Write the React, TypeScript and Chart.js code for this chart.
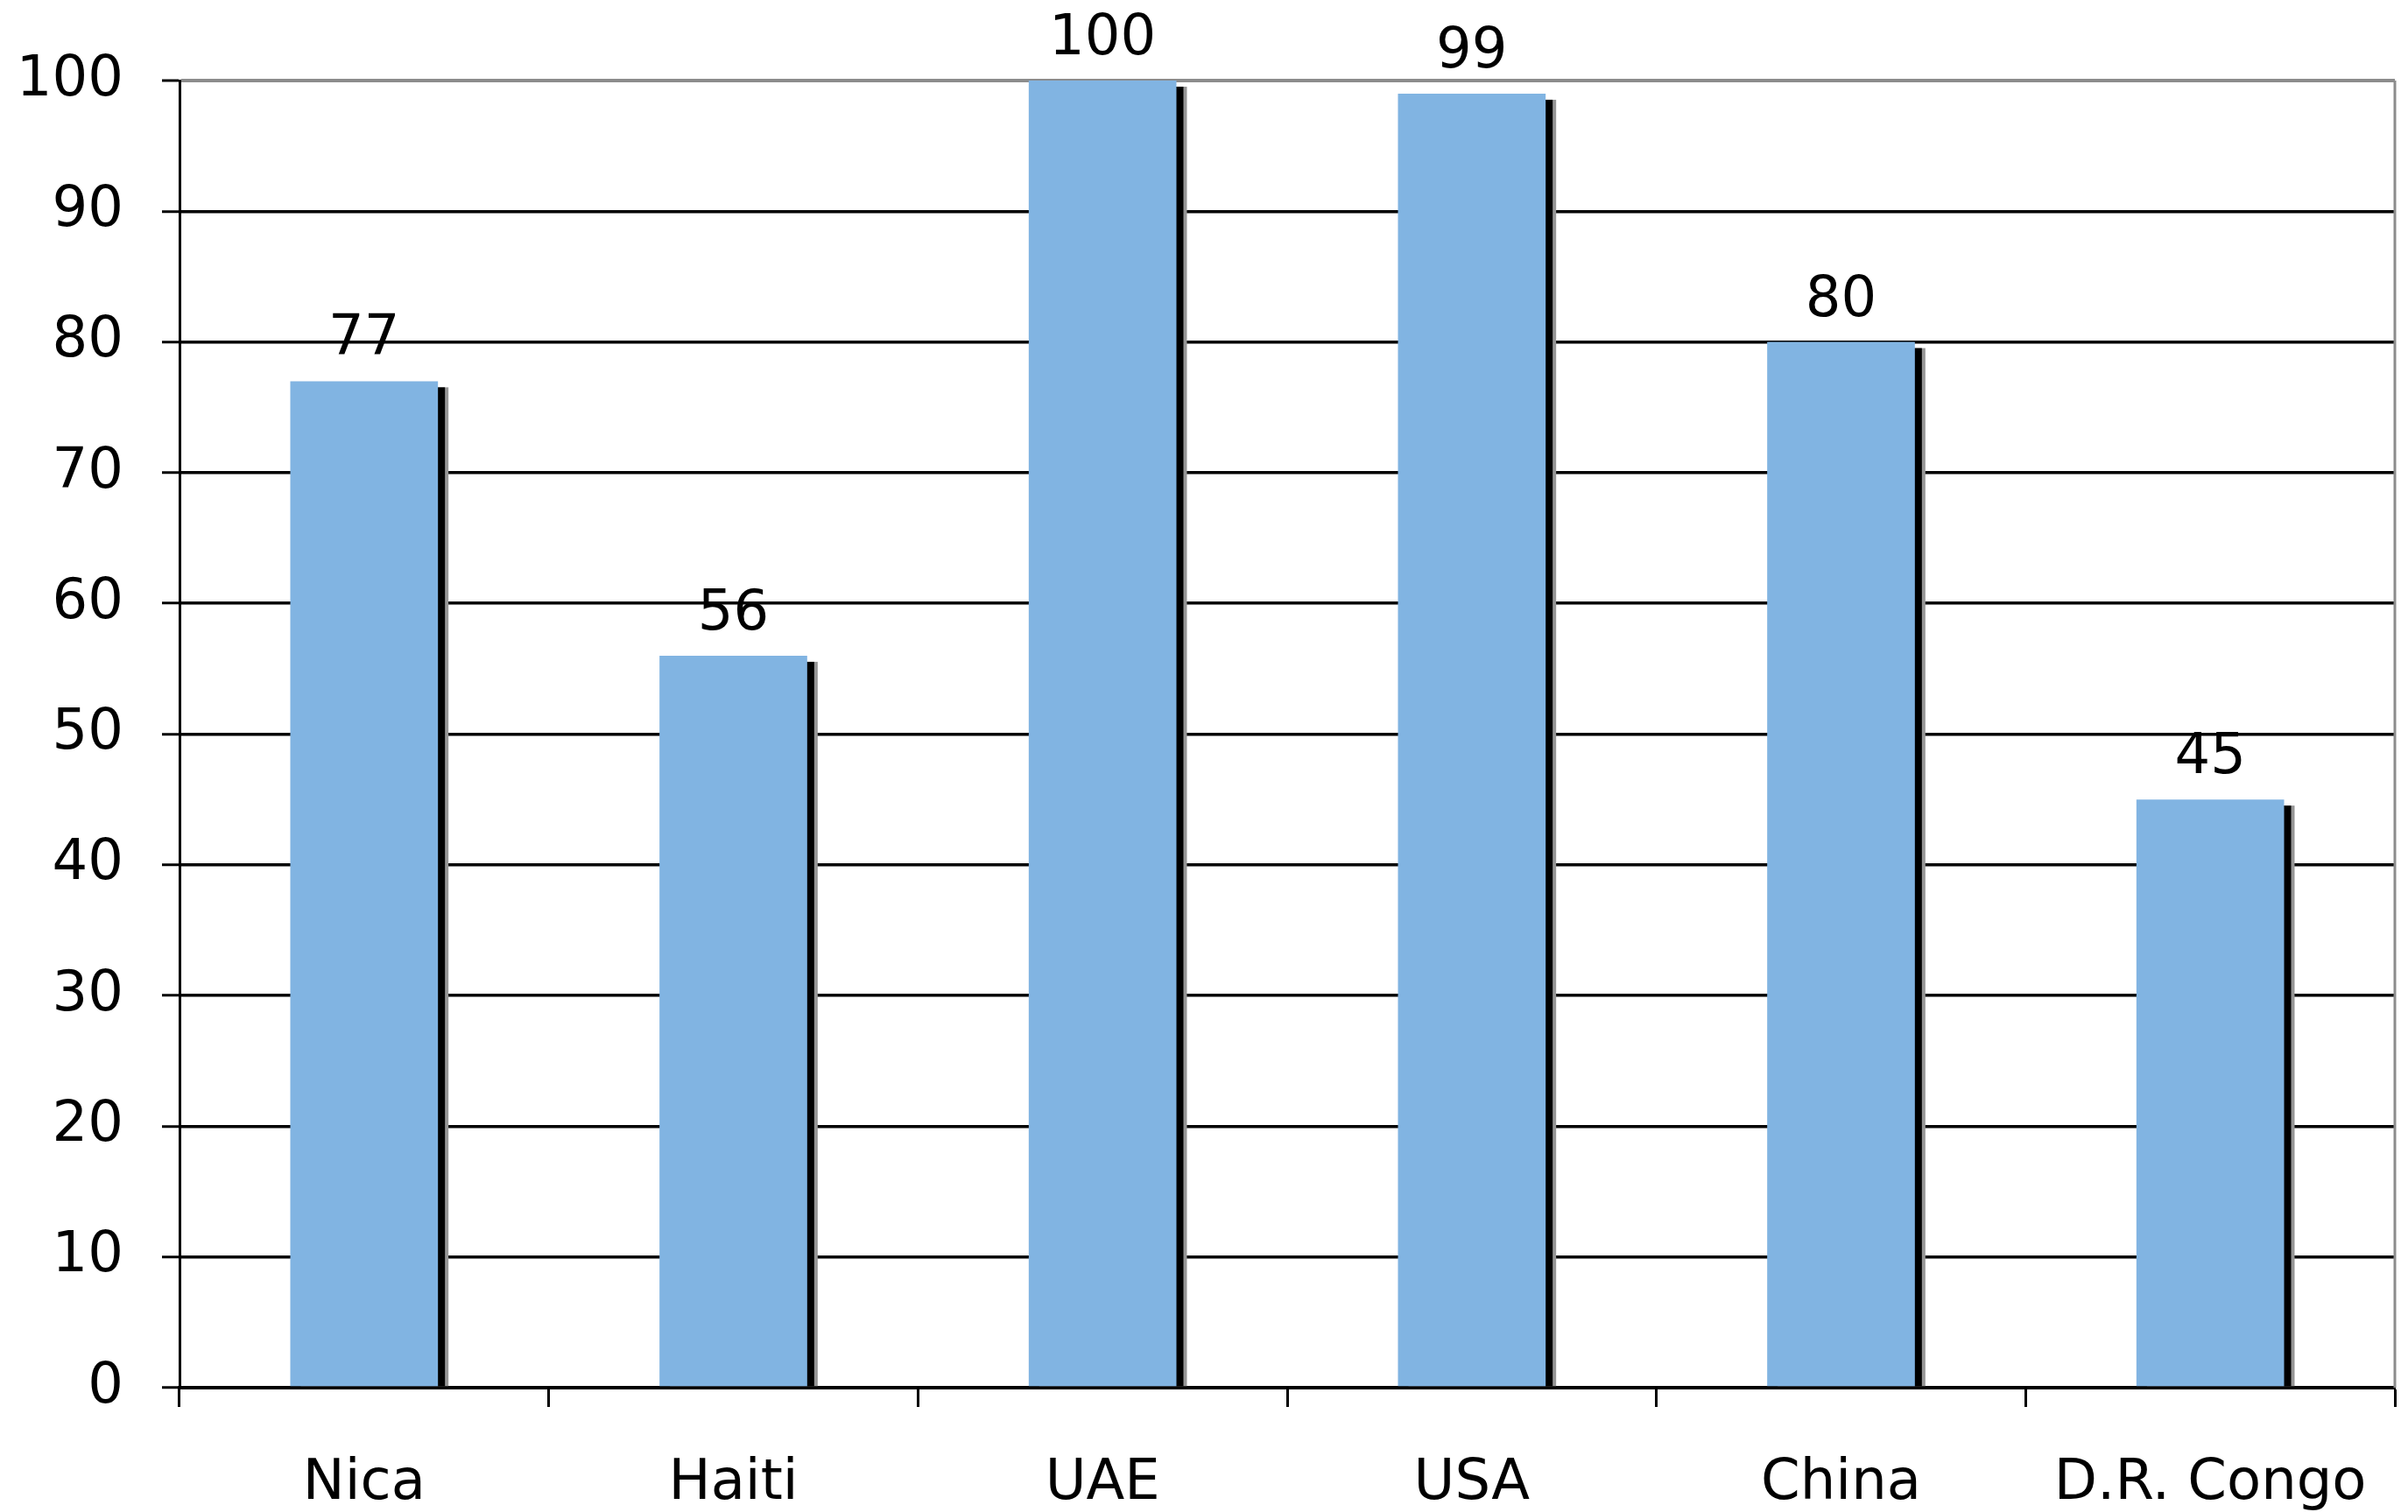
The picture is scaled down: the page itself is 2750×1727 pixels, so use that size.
import React, { useEffect, useRef } from "react";
import { Chart, registerables } from "chart.js";

Chart.register(...registerables);

const categories = ["Nica", "Haiti", "UAE", "USA", "China", "D.R. Congo"];
const values = [77, 56, 100, 99, 80, 45];
const yTicks = [0, 10, 20, 30, 40, 50, 60, 70, 80, 90, 100];

const BAR_COLOR = "rgb(129,180,226)";
const FONT = "DejaVu Sans, Verdana, sans-serif";

// Drop shadow behind each bar, a right-hand frame line, and value labels above bars.
const barExtras = {
  id: "barExtras",
  beforeDatasetsDraw(chart: any) {
    const { ctx, chartArea } = chart;
    const meta = chart.getDatasetMeta(0);
    ctx.save();
    meta.data.forEach((bar: any) => {
      const w = bar.width;
      const left = bar.x - w / 2;
      const top = bar.y;
      const bottom = bar.base;
      ctx.fillStyle = "rgba(150,150,150,1)";
      ctx.fillRect(left + 12, top + 7, w, bottom - top - 7);
      ctx.fillStyle = "#000";
      ctx.fillRect(left + 8, top + 7, w, bottom - top - 7);
    });
    // right frame
    ctx.strokeStyle = "#8c8c8c";
    ctx.lineWidth = 3;
    ctx.beginPath();
    ctx.moveTo(chartArea.right, chartArea.top);
    ctx.lineTo(chartArea.right, chartArea.bottom);
    ctx.stroke();
    ctx.restore();
  },
  afterDatasetsDraw(chart: any) {
    const { ctx } = chart;
    const meta = chart.getDatasetMeta(0);
    ctx.save();
    ctx.font = `64px ${FONT}`;
    ctx.fillStyle = "#000";
    ctx.textAlign = "center";
    ctx.textBaseline = "alphabetic";
    meta.data.forEach((bar: any, i: number) => {
      ctx.fillText(String(values[i]), bar.x, bar.y - 30);
    });
    ctx.restore();
  },
};

export default function App() {
  const canvasRef = useRef<HTMLCanvasElement | null>(null);

  useEffect(() => {
    const canvas = canvasRef.current;
    if (!canvas) return;
    Chart.defaults.font.family = FONT;
    const chart = new Chart(canvas, {
      type: "bar",
      data: {
        labels: categories,
        datasets: [
          {
            data: values,
            backgroundColor: BAR_COLOR,
            borderWidth: 0,
            categoryPercentage: 1,
            barPercentage: 0.4,
          },
        ],
      },
      plugins: [barExtras],
      options: {
        responsive: false,
        animation: false,
        events: [],
        layout: { padding: { top: 92, right: 15, left: 0, bottom: 0 } },
        plugins: {
          legend: { display: false },
          tooltip: { enabled: false },
          title: { display: false },
        },
        scales: {
          x: {
            offset: true,
            grid: {
              offset: true,
              drawOnChartArea: false,
              drawTicks: true,
              tickLength: 22,
              tickWidth: 3,
              tickColor: "#000",
            },
            border: { display: true, color: "#000", width: 4 },
            ticks: {
              color: "#000",
              font: { size: 64, family: FONT },
              padding: 50,
              maxRotation: 0,
              autoSkip: false,
            },
            afterFit(scale: any) {
              scale.height = 142;
              scale.paddingLeft = 0;
              scale.paddingRight = 0;
            },
          },
          y: {
            min: 0,
            max: 100,
            afterBuildTicks(scale: any) {
              scale.ticks = yTicks.map((v) => ({ value: v }));
            },
            grid: {
              color: (c: any) => (c.tick && c.tick.value === 100 ? "#8c8c8c" : "#000"),
              lineWidth: (c: any) => (c.tick && c.tick.value === 100 ? 4 : 3.5),
              tickLength: 20,
              tickColor: "#000",
              tickWidth: 3,
            },
            border: { display: true, color: "#000", width: 3 },
            ticks: {
              color: "#000",
              font: { size: 64, family: FONT },
              padding: 44,
            },
            afterFit(scale: any) {
              scale.width = 205;
            },
          },
        },
      },
    } as any);
    return () => chart.destroy();
  }, []);

  return (
    <div style={{ position: "fixed", left: 0, top: 0, width: 2750, height: 1727, background: "#fff" }}>
      <canvas ref={canvasRef} width={2750} height={1727} style={{ display: "block" }} />
    </div>
  );
}
